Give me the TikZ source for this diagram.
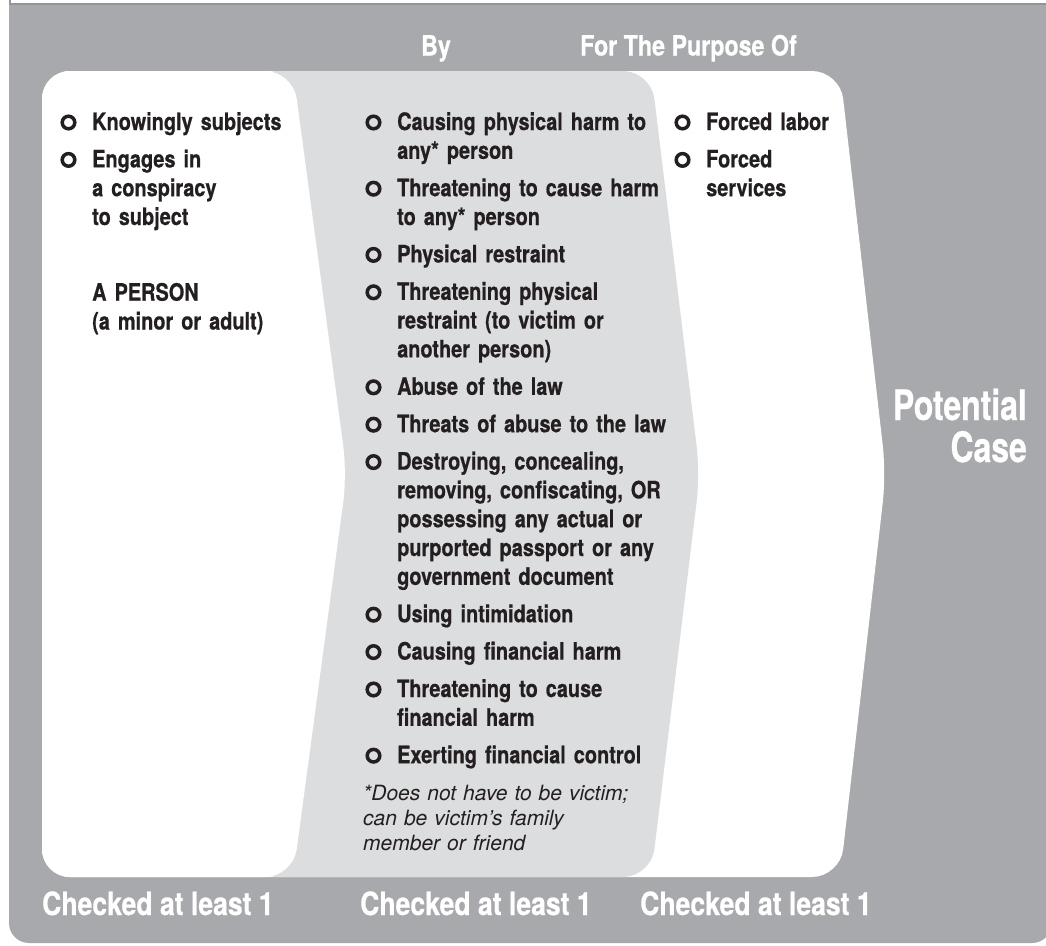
\documentclass[tikz,border=0pt]{standalone}
\usepackage{fontspec}
\setmainfont{TeX Gyre Heros}[FakeStretch=0.83, BoldFeatures={FakeBold=0.6}]
\newfontfamily\notefont{TeX Gyre Heros}
\newfontfamily\casefont{TeX Gyre Heros}[FakeStretch=0.76, BoldFeatures={FakeBold=0.6}]
\usepackage{tikz}
\usepackage{xcolor}
\definecolor{Cpanel}{RGB}{168,169,173}
\definecolor{Cband}{RGB}{220,221,223}
\definecolor{Cline}{RGB}{147,149,152}
\definecolor{Ctext}{RGB}{35,31,32}
\newcommand{\Chk}[4]{%
    \draw[draw=Ctext, line width=3.5]
      (#2-23.5, #3-7.5) circle (6.3);
    \node[item, anchor=base west] (#1) at (#2, #3) {#4};
  }

\begin{document}
\begin{tikzpicture}[x=1pt,y=-1pt,
    item/.style={font={\fontsize{24}{28.8}\selectfont\bfseries}, text=Ctext,
      inner sep=0pt, text width=300pt, align=left},
    head/.style={font={\fontsize{28}{32}\selectfont\bfseries}, text=white, inner sep=0pt},
    foot/.style={font={\fontsize{32}{36}\selectfont\bfseries}, text=white, inner sep=0pt},
    outcome/.style={font={\casefont\fontsize{42}{42}\selectfont\bfseries}, text=white,
      inner sep=0pt, anchor=base east},
    note/.style={font={\notefont\itshape\fontsize{21}{25}\selectfont}, text=Ctext,
      inner sep=0pt, text width=300pt, align=left}]
  \useasboundingbox (0,0) rectangle (1046,945);
  \clip (0,0) rectangle (1046,945);

  % ------------------------------------------------
  % grey panel, square on top, rounded at the bottom
  % ------------------------------------------------
  \fill[Cpanel, rounded corners=20pt] (9,5) rectangle (1052,943);
  \fill[Cpanel] (9,5) rectangle (1052,60);
  \draw[Cline, line width=1.6pt] (10,-2) -- (10,4) -- (1050,4);

  % three chevrons: white card, grey band, white card on top
  \fill[white, rounded corners=28pt]
    (42,71) -- (840,71) -- (886,474) -- (840,877) -- (42,877) -- cycle;
  \fill[Cband, rounded corners=28pt]
    (250,71) -- (651,71) -- (700,474) -- (651,877) -- (250,877) -- cycle;
  \fill[white, rounded corners=28pt]
    (42,71) -- (293,71) -- (347,474) -- (293,877) -- (42,877) -- cycle;

  % column heads
  \node[head, anchor=base] (by) at (436,55.5) {By};
  \node[head, anchor=base west] (purpose) at (580,55.5) {For The Purpose Of};

  % Column 1
  \Chk{knowing}{92}{130}{Knowingly subjects}
  \Chk{engage}{92}{167.4}{Engages in\\a conspiracy\\to subject}
  \node[item, anchor=base west] (person) at (92,300.7) {A PERSON\\(a minor or adult)};

  % Column 2
  \Chk{harm}{397}{130}{Causing physical harm to\\any* person}
  \Chk{threatharm}{397}{196.2}{Threatening to cause harm\\to any* person}
  \Chk{restrain}{397}{262.4}{Physical restraint}
  \Chk{threatrestrain}{397}{299.8}{Threatening physical\\restraint (to victim or\\another person)}
  \Chk{abuse}{397}{394.8}{Abuse of the law}
  \Chk{threatabuse}{397}{432.2}{Threats of abuse to the law}
  \Chk{passport}{397}{469.6}{Destroying, concealing,\\removing, confiscating, OR\\possessing any actual or\\purported passport or any\\government document}
  \Chk{intimidate}{397}{622.2}{Using intimidation}
  \Chk{finharm}{397}{659.6}{Causing financial harm}
  \Chk{threatfin}{397}{697}{Threatening to cause\\financial harm}
  \Chk{fincontrol}{397}{763.2}{Exerting financial control}
  \node[note, anchor=base west] (victimnote) at (363,800)
    {*Does not have to be victim;\\can be victim’s family\\member or friend};

  % Column 3
  \Chk{labor}{706}{130}{Forced labor}
  \Chk{services}{706}{167.4}{Forced\\services}

  % outcome
  \node[outcome] (potential) at (1027,420) {Potential};
  \node[outcome] (case) at (1027,462) {Case};

  % counts under the columns
  \node[foot, anchor=base west] (countA) at (42,915) {Checked at least 1};
  \node[foot, anchor=base west] (countB) at (360,915) {Checked at least 1};
  \node[foot, anchor=base west] (countC) at (640,915) {Checked at least 1};
\end{tikzpicture}
\end{document}
